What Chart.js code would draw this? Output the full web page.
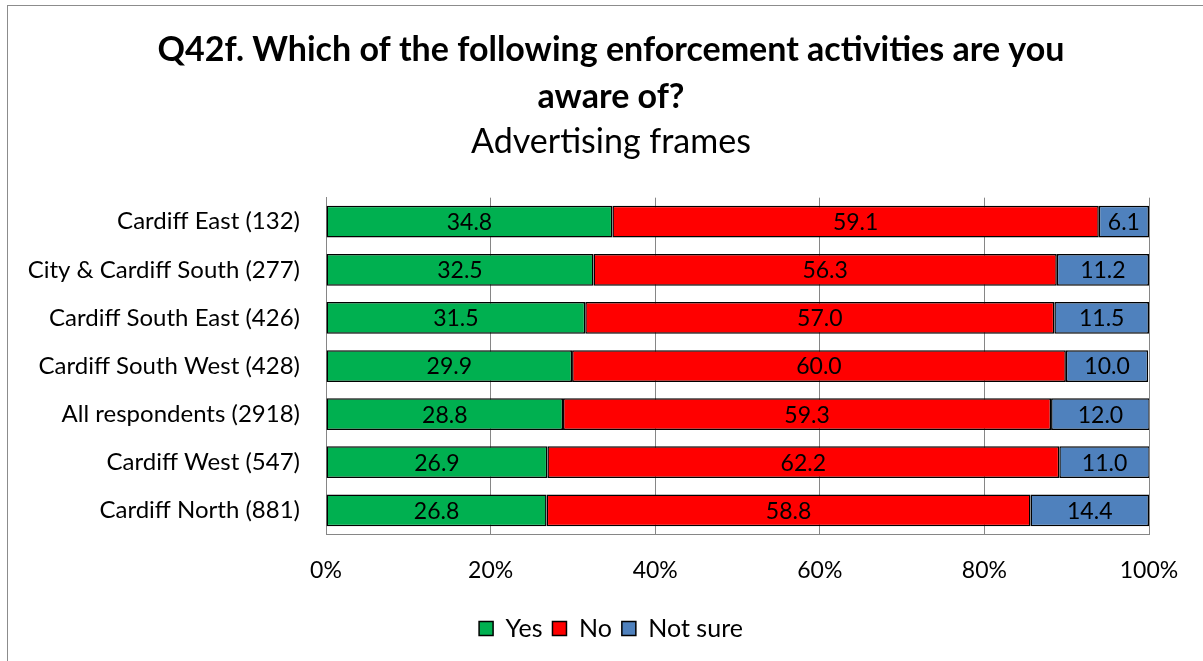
<!DOCTYPE html>
<html>
<head>
<meta charset="utf-8">
<script src="https://cdn.jsdelivr.net/npm/chart.js@4.4.1/dist/chart.umd.min.js"></script>
<style>
  html, body { margin: 0; padding: 0; background: #fff; }
  #wrap { position: relative; width: 1203px; height: 661px; }
</style>
</head>
<body>
<div id="wrap"><canvas id="grafica" width="1203" height="661"></canvas></div>
<script>
// datos del grafico
const categorias = [
  'Cardiff East (132)',
  'City & Cardiff South (277)',
  'Cardiff South East (426)',
  'Cardiff South West (428)',
  'All respondents (2918)',
  'Cardiff West (547)',
  'Cardiff North (881)'
];
const valoresYes = [34.8, 32.5, 31.5, 29.9, 28.8, 26.9, 26.8];
const valoresNo = [59.1, 56.3, 57.0, 60.0, 59.3, 62.2, 58.8];
const valoresNotSure = [6.1, 11.2, 11.5, 10.0, 12.0, 11.0, 14.4];
const tituloLineas = ['Q42f. Which of the following enforcement activities are you', 'aware of?'];
const subtitulo = 'Advertising frames';

const fuente = 'Lato, "Open Sans", sans-serif';

// etiquetas dentro de cada segmento
const etiquetasPlugin = {
  id: 'etiquetas',
  afterDatasetsDraw(chart) {
    const ctx = chart.ctx;
    ctx.save();
    ctx.font = '23px ' + fuente;
    ctx.fillStyle = '#000';
    ctx.textAlign = 'center';
    ctx.textBaseline = 'middle';
    chart.data.datasets.forEach((ds, i) => {
      chart.getDatasetMeta(i).data.forEach((bar, j) => {
        const x = (bar.x + bar.base) / 2;
        ctx.fillText(ds.data[j].toFixed(1), x, bar.y + 1);
      });
    });
    ctx.restore();
  }
};

// marco gris y centrado de titulo y leyenda sobre todo el lienzo
const marcoPlugin = {
  id: 'marco',
  afterLayout(chart) {
    chart.boxes.forEach(b => {
      if (b === chart.titleBlock || b === chart.legend || (b.options && b.options.text === subtitulo)) {
        b.left = 19;
        b.right = 1203;
      }
    });
  },
  beforeDraw(chart) {
    const ctx = chart.ctx;
    ctx.save();
    ctx.fillStyle = '#fff';
    ctx.fillRect(0, 0, chart.width, chart.height);
    ctx.strokeStyle = '#8c8c8c';
    ctx.lineWidth = 1;
    ctx.strokeRect(7.5, 5.5, chart.width, chart.height);
    ctx.restore();
  }
};

new Chart(document.getElementById('grafica'), {
  type: 'bar',
  data: {
    labels: categorias,
    datasets: [
      { label: 'Yes', data: valoresYes, backgroundColor: '#00B050' },
      { label: 'No', data: valoresNo, backgroundColor: '#FF0000' },
      { label: 'Not sure', data: valoresNotSure, backgroundColor: '#4F81BD' }
    ]
  },
  options: {
    indexAxis: 'y',
    responsive: false,
    animation: false,
    layout: { padding: { left: 0, right: 54, top: 0, bottom: 10 } },
    datasets: {
      bar: {
        borderColor: '#000',
        borderWidth: 1.5,
        borderSkipped: false,
        categoryPercentage: 0.66,
        barPercentage: 1
      }
    },
    plugins: {
      title: {
        display: true,
        text: tituloLineas,
        color: '#000',
        font: { family: fuente, size: 34, weight: 'bold', lineHeight: 1.38 },
        padding: { top: 27, bottom: 0 }
      },
      subtitle: {
        display: true,
        text: subtitulo,
        color: '#000',
        font: { family: fuente, size: 34, weight: 'normal', lineHeight: 1.26 },
        padding: { top: 0, bottom: 34 }
      },
      legend: {
        position: 'bottom',
        labels: {
          color: '#000',
          font: { family: fuente, size: 25 },
          boxWidth: 14,
          boxHeight: 14,
          padding: 10
        }
      },
      tooltip: { enabled: false }
    },
    scales: {
      x: {
        stacked: true,
        min: 0,
        max: 100,
        ticks: {
          stepSize: 20,
          color: '#000',
          font: { family: fuente, size: 23 },
          padding: 22,
          callback: v => v + '%'
        },
        grid: { color: '#868686', drawTicks: false },
        border: { color: '#868686' }
      },
      y: {
        stacked: true,
        ticks: {
          color: '#000',
          font: { family: fuente, size: 24 },
          padding: 26
        },
        grid: { display: false, drawTicks: false },
        border: { color: '#868686' },
        afterFit(scale) { scale.width = 326; }
      }
    }
  },
  plugins: [marcoPlugin, etiquetasPlugin]
});
</script>
</body>
</html>
